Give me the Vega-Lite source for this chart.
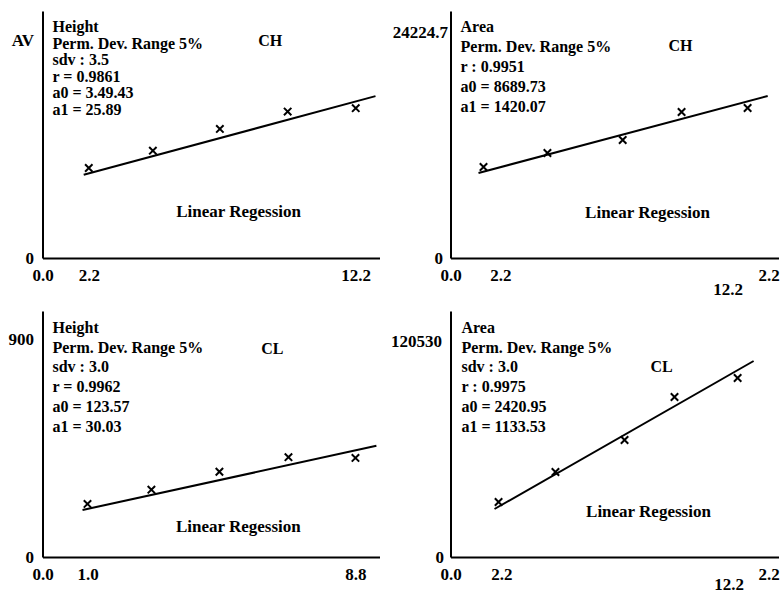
{
  "$schema": "https://vega.github.io/schema/vega-lite/v6.json",
  "padding": {"left": 7.5, "top": 11, "right": 0, "bottom": 0},
  "background": "white",
  "bounds": "flush",
  "columns": 2,
  "spacing": {"row": 53, "column": 71},
  "config": {
    "view": {"stroke": null},
    "axis": {
      "domainColor": "black", "domainWidth": 2, "ticks": false, "tickSize": 0, "grid": false,
      "labelFont": "Liberation Serif", "labelFontSize": 17, "labelFontWeight": "bold", "labelColor": "black",
      "labelFlush": false, "labelOverlap": false
    },
    "text": {"font": "Liberation Serif", "fontWeight": "bold", "color": "black"}
  },
  "concat": [
    {
      "width": 337, "height": 247,
      "data": {"values": [
        {"kind": "obs", "x": 2.2, "y": 373},
        {"kind": "obs", "x": 4.6, "y": 445},
        {"kind": "obs", "x": 7.11, "y": 535},
        {"kind": "obs", "x": 9.65, "y": 607},
        {"kind": "obs", "x": 12.2, "y": 621},
        {"kind": "fit", "x": 2.01, "y": 345},
        {"kind": "fit", "x": 12.94, "y": 671},
        {"kind": "block", "x": 0.84, "y": 991, "label": "Height\nPerm. Dev. Range 5%\nsdv : 3.5\nr = 0.9861\na0 = 3.49.43\na1 = 25.89"},
        {"kind": "tag", "x": 9.0, "y": 900, "label": "CH"},
        {"kind": "caption", "x": 7.81, "y": 191, "label": "Linear Regession"}
      ]},
      "encoding": {
        "x": {"field": "x", "type": "quantitative", "scale": {"domain": [0.466, 13.09], "nice": false, "zero": false},
              "axis": {"title": null, "values": [0.466, 2.2, 12.2], "labelExpr": "datum.value < 1 ? '0.0' : format(datum.value, '.1f')", "labelPadding": 9}},
        "y": {"field": "y", "type": "quantitative", "scale": {"domain": [0, 1024], "nice": false, "zero": false},
              "axis": {"title": null, "values": [0, 900], "labelExpr": "datum.value == 0 ? '0' : 'AV'", "labelPadding": 9}}
      },
      "layer": [
        {"transform": [{"filter": "datum.kind == 'fit'"}], "mark": {"type": "line", "color": "black", "strokeWidth": 2}},
        {"transform": [{"filter": "datum.kind == 'obs'"}], "mark": {"type": "point", "shape": "M-1,-1L1,1M-1,1L1,-1", "size": 55, "filled": false, "color": "black", "strokeWidth": 2, "opacity": 1}},
        {"transform": [{"filter": "datum.kind == 'block'"}], "mark": {"type": "text", "align": "left", "baseline": "top", "lineBreak": "\n", "lineHeight": 16.6, "fontSize": 16}, "encoding": {"text": {"field": "label"}}},
        {"transform": [{"filter": "datum.kind == 'tag'"}], "mark": {"type": "text", "align": "center", "baseline": "middle", "fontSize": 16}, "encoding": {"text": {"field": "label"}}},
        {"transform": [{"filter": "datum.kind == 'caption'"}], "mark": {"type": "text", "align": "center", "baseline": "middle", "fontSize": 17}, "encoding": {"text": {"field": "label"}}}
      ]
    },
    {
      "width": 328, "height": 247,
      "data": {"values": [
        {"kind": "obs", "x": 2.2, "y": 9754},
        {"kind": "obs", "x": 4.62, "y": 11255},
        {"kind": "obs", "x": 7.47, "y": 12648},
        {"kind": "obs", "x": 9.7, "y": 15650},
        {"kind": "obs", "x": 12.2, "y": 16078},
        {"kind": "fit", "x": 2.01, "y": 9111},
        {"kind": "fit", "x": 12.96, "y": 17365},
        {"kind": "block", "x": 1.33, "y": 25618, "label": "Area\nPerm. Dev. Range 5%\nr : 0.9951\na0 = 8689.73\na1 = 1420.07"},
        {"kind": "tag", "x": 9.66, "y": 22724, "label": "CH"},
        {"kind": "caption", "x": 8.41, "y": 4824, "label": "Linear Regession"}
      ]},
      "encoding": {
        "x": {"field": "x", "type": "quantitative", "scale": {"domain": [0.95, 13.37], "nice": false, "zero": false},
              "axis": {"title": null, "values": [0.95, 2.84, 11.44, 13.0],
                       "labelExpr": "datum.value < 1 ? '0.0' : datum.value < 3 ? '2.2' : datum.value < 12 ? '12.2' : '2.2'",
                       "labelPadding": {"condition": {"test": "datum.value > 11 && datum.value < 12", "value": 23}, "value": 9}}},
        "y": {"field": "y", "type": "quantitative", "scale": {"domain": [0, 26476], "nice": false, "zero": false},
              "axis": {"title": null, "values": [0, 24224.7], "labelExpr": "datum.value == 0 ? '0' : '24224.7'",
                       "labelPadding": {"condition": {"test": "datum.value == 0", "value": 8}, "value": 3}}}
      },
      "layer": [
        {"transform": [{"filter": "datum.kind == 'fit'"}], "mark": {"type": "line", "color": "black", "strokeWidth": 2}},
        {"transform": [{"filter": "datum.kind == 'obs'"}], "mark": {"type": "point", "shape": "M-1,-1L1,1M-1,1L1,-1", "size": 55, "filled": false, "color": "black", "strokeWidth": 2, "opacity": 1}},
        {"transform": [{"filter": "datum.kind == 'block'"}], "mark": {"type": "text", "align": "left", "baseline": "top", "lineBreak": "\n", "lineHeight": 20, "fontSize": 16}, "encoding": {"text": {"field": "label"}}},
        {"transform": [{"filter": "datum.kind == 'tag'"}], "mark": {"type": "text", "align": "center", "baseline": "middle", "fontSize": 16}, "encoding": {"text": {"field": "label"}}},
        {"transform": [{"filter": "datum.kind == 'caption'"}], "mark": {"type": "text", "align": "center", "baseline": "middle", "fontSize": 17}, "encoding": {"text": {"field": "label"}}}
      ]
    },
    {
      "width": 337, "height": 246,
      "data": {"values": [
        {"kind": "obs", "x": 1.0, "y": 219},
        {"kind": "obs", "x": 2.86, "y": 278},
        {"kind": "obs", "x": 4.84, "y": 352},
        {"kind": "obs", "x": 6.85, "y": 412},
        {"kind": "obs", "x": 8.8, "y": 409},
        {"kind": "fit", "x": 0.855, "y": 194},
        {"kind": "fit", "x": 9.41, "y": 459},
        {"kind": "block", "x": -0.019, "y": 978, "label": "Height\nPerm. Dev. Range 5%\nsdv : 3.0\nr = 0.9962\na0 = 123.57\na1 = 30.03"},
        {"kind": "tag", "x": 6.38, "y": 859, "label": "CL"},
        {"kind": "caption", "x": 5.39, "y": 124, "label": "Linear Regession"}
      ]},
      "encoding": {
        "x": {"field": "x", "type": "quantitative", "scale": {"domain": [-0.31, 9.5], "nice": false, "zero": false},
              "axis": {"title": null, "values": [-0.31, 1.0, 8.8], "labelExpr": "datum.value < 0 ? '0.0' : format(datum.value, '.1f')", "labelPadding": 9}},
        "y": {"field": "y", "type": "quantitative", "scale": {"domain": [0, 1015.6], "nice": false, "zero": false},
              "axis": {"title": null, "values": [0, 900], "labelExpr": "datum.value == 0 ? '0' : '900'", "labelPadding": 9}}
      },
      "layer": [
        {"transform": [{"filter": "datum.kind == 'fit'"}], "mark": {"type": "line", "color": "black", "strokeWidth": 2}},
        {"transform": [{"filter": "datum.kind == 'obs'"}], "mark": {"type": "point", "shape": "M-1,-1L1,1M-1,1L1,-1", "size": 55, "filled": false, "color": "black", "strokeWidth": 2, "opacity": 1}},
        {"transform": [{"filter": "datum.kind == 'block'"}], "mark": {"type": "text", "align": "left", "baseline": "top", "lineBreak": "\n", "lineHeight": 19.7, "fontSize": 16}, "encoding": {"text": {"field": "label"}}},
        {"transform": [{"filter": "datum.kind == 'tag'"}], "mark": {"type": "text", "align": "center", "baseline": "middle", "fontSize": 16}, "encoding": {"text": {"field": "label"}}},
        {"transform": [{"filter": "datum.kind == 'caption'"}], "mark": {"type": "text", "align": "center", "baseline": "middle", "fontSize": 17}, "encoding": {"text": {"field": "label"}}}
      ]
    },
    {
      "width": 328, "height": 246,
      "data": {"values": [
        {"kind": "obs", "x": 2.2, "y": 30690},
        {"kind": "obs", "x": 4.58, "y": 47430},
        {"kind": "obs", "x": 7.47, "y": 65286},
        {"kind": "obs", "x": 9.56, "y": 89280},
        {"kind": "obs", "x": 12.2, "y": 99882},
        {"kind": "fit", "x": 2.03, "y": 26784},
        {"kind": "fit", "x": 12.87, "y": 109368},
        {"kind": "block", "x": 0.65, "y": 132246, "label": "Area\nPerm. Dev. Range 5%\nsdv : 3.0\nr : 0.9975\na0 = 2420.95\na1 = 1133.53"},
        {"kind": "tag", "x": 9.02, "y": 106020, "label": "CL"},
        {"kind": "caption", "x": 8.47, "y": 25110, "label": "Linear Regession"}
      ]},
      "encoding": {
        "x": {"field": "x", "type": "quantitative", "scale": {"domain": [0.19, 13.91], "nice": false, "zero": false},
              "axis": {"title": null, "values": [0.19, 2.32, 11.82, 13.5],
                       "labelExpr": "datum.value < 1 ? '0.0' : datum.value < 3 ? '2.2' : datum.value < 12 ? '12.2' : '2.2'",
                       "labelPadding": {"condition": {"test": "datum.value > 11 && datum.value < 12", "value": 19}, "value": 9}}},
        "y": {"field": "y", "type": "quantitative", "scale": {"domain": [0, 137271], "nice": false, "zero": false},
              "axis": {"title": null, "values": [0, 120530], "labelExpr": "datum.value == 0 ? '0' : '120530'",
                       "labelPadding": {"condition": {"test": "datum.value == 0", "value": 7}, "value": 9}}}
      },
      "layer": [
        {"transform": [{"filter": "datum.kind == 'fit'"}], "mark": {"type": "line", "color": "black", "strokeWidth": 2}},
        {"transform": [{"filter": "datum.kind == 'obs'"}], "mark": {"type": "point", "shape": "M-1,-1L1,1M-1,1L1,-1", "size": 55, "filled": false, "color": "black", "strokeWidth": 2, "opacity": 1}},
        {"transform": [{"filter": "datum.kind == 'block'"}], "mark": {"type": "text", "align": "left", "baseline": "top", "lineBreak": "\n", "lineHeight": 19.7, "fontSize": 16}, "encoding": {"text": {"field": "label"}}},
        {"transform": [{"filter": "datum.kind == 'tag'"}], "mark": {"type": "text", "align": "center", "baseline": "middle", "fontSize": 16}, "encoding": {"text": {"field": "label"}}},
        {"transform": [{"filter": "datum.kind == 'caption'"}], "mark": {"type": "text", "align": "center", "baseline": "middle", "fontSize": 17}, "encoding": {"text": {"field": "label"}}}
      ]
    }
  ]
}
